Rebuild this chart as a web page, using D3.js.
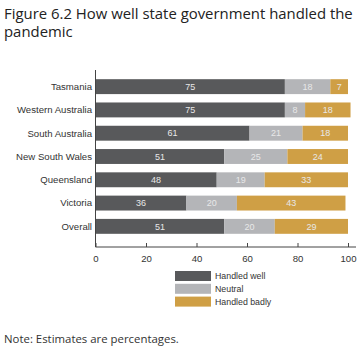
<!DOCTYPE html>
<html>
<head>
<meta charset="utf-8">
<script src="https://cdn.jsdelivr.net/npm/d3@7"></script>
<style>
  body { margin: 0; background: #fff; }
  svg { display: block; }
</style>
</head>
<body>
<div id="chart"></div>
<script>
const states = ["Tasmania", "Western Australia", "South Australia", "New South Wales", "Queensland", "Victoria", "Overall"];
const handledWell = [75, 75, 61, 51, 48, 36, 51];
const neutral = [18, 8, 21, 25, 19, 20, 20];
const handledBadly = [7, 18, 18, 24, 33, 43, 29];
const seriesNames = ["Handled well", "Neutral", "Handled badly"];
const xTicks = [0, 20, 40, 60, 80, 100];

const colors = ["#58595b", "#b4b5b8", "#cf9f45"];
const width = 364, height = 350;

const svg = d3.select("#chart").append("svg")
  .attr("width", width).attr("height", height);

// title
const title = svg.append("text")
  .attr("x", 4).attr("y", 19)
  .style("font-family", "'Open Sans', sans-serif")
  .style("font-size", "14.9px")
  .style("fill", "#222");
title.append("tspan").attr("x", 4).attr("dy", 0).text("Figure 6.2 How well state government handled the");
title.append("tspan").attr("x", 4).attr("dy", 18).text("pandemic");

const x = d3.scaleLinear().domain([0, 100]).range([95.5, 348]);
const y = d3.scaleBand().domain(states).range([75, 238]).paddingInner(0.36).paddingOuter(0.18);

const rows = states.map((s, i) => ({ state: s, vals: [handledWell[i], neutral[i], handledBadly[i]] }));

const g = svg.append("g");
rows.forEach(r => {
  let start = 0;
  r.vals.forEach((v, k) => {
    g.append("rect")
      .attr("x", x(start))
      .attr("y", y(r.state))
      .attr("width", x(start + v) - x(start))
      .attr("height", y.bandwidth())
      .attr("fill", colors[k]);
    g.append("text")
      .attr("x", x(start + v / 2))
      .attr("y", y(r.state) + y.bandwidth() / 2)
      .attr("dy", "0.35em")
      .attr("text-anchor", "middle")
      .style("font-family", "'Liberation Sans', sans-serif")
      .style("font-size", "9px")
      .style("fill", "#e8e8e8")
      .text(v);
    start += v;
  });
});

// category labels
svg.append("g").selectAll("text").data(states).join("text")
  .attr("x", 92)
  .attr("y", d => y(d) + y.bandwidth() / 2)
  .attr("dy", "0.35em")
  .attr("text-anchor", "end")
  .style("font-family", "'Liberation Sans', sans-serif")
  .style("font-size", "9.6px")
  .style("fill", "#333")
  .text(d => d);

// vertical axis line
svg.append("line")
  .attr("x1", 95.5).attr("x2", 95.5)
  .attr("y1", 70).attr("y2", 247)
  .attr("stroke", "#444").attr("stroke-width", 1);

// x axis
const xAxis = svg.append("g")
  .attr("transform", "translate(0,247)")
  .call(d3.axisBottom(x).tickValues(xTicks).tickSize(-4).tickPadding(8).tickFormat(d3.format("d")));
xAxis.select(".domain").attr("d", "M95.5,0H356").attr("stroke", "#444");
xAxis.selectAll(".tick line").attr("stroke", "#444");
xAxis.selectAll("text")
  .style("font-family", "'Liberation Sans', sans-serif")
  .style("font-size", "9.6px")
  .style("fill", "#333");

// legend
const legend = svg.append("g");
seriesNames.forEach((name, i) => {
  const ly = 271 + i * 12.8;
  legend.append("rect")
    .attr("x", 175).attr("y", ly)
    .attr("width", 36).attr("height", 10)
    .attr("fill", colors[i]);
  legend.append("text")
    .attr("x", 215).attr("y", ly + 5)
    .attr("dy", "0.35em")
    .style("font-family", "'Liberation Sans', sans-serif")
    .style("font-size", "8.8px")
    .style("fill", "#333")
    .text(name);
});

// note
svg.append("text")
  .attr("x", 4).attr("y", 343)
  .style("font-family", "'Open Sans', sans-serif")
  .style("font-size", "11.4px")
  .style("fill", "#333")
  .text("Note: Estimates are percentages.");
</script>
</body>
</html>
